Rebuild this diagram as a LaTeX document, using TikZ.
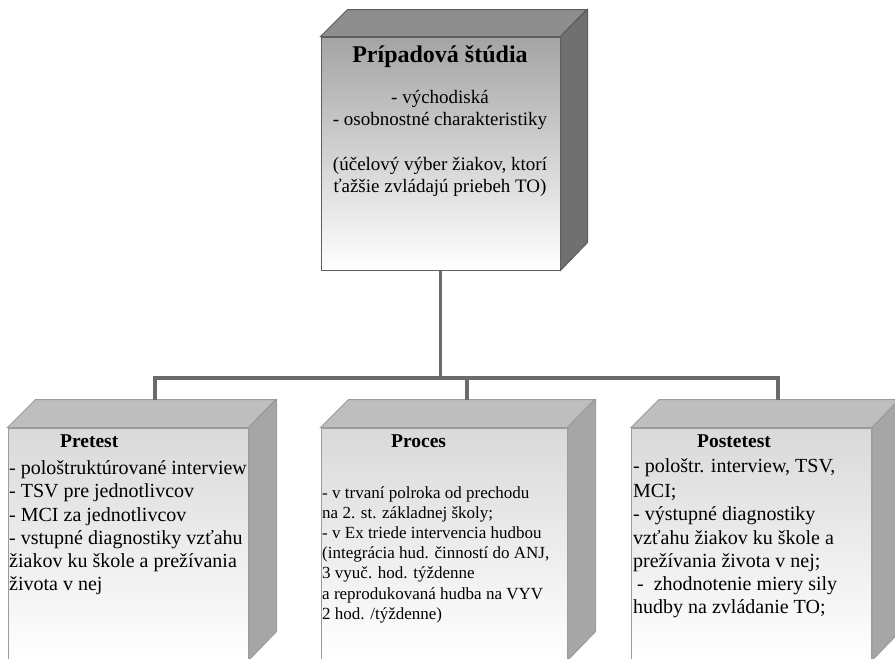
\documentclass[tikz,border=0pt]{standalone}
\usepackage{fontspec}
\setmainfont{Liberation Serif}
\usepackage{tikz}
\definecolor{topdark}{HTML}{8E8E8E}
\definecolor{sidedark}{HTML}{707070}
\definecolor{frontdark}{HTML}{A4A4A4}
\definecolor{edgedark}{HTML}{5E5E5E}
\definecolor{toplight}{HTML}{BEBEBE}
\definecolor{sidelight}{HTML}{A6A6A6}
\definecolor{frontlight}{HTML}{D9D9D9}
\definecolor{edgelight}{HTML}{9C9C9C}
\definecolor{linkgray}{HTML}{6B6B6B}
\tikzset{
  bigfront/.style={draw=edgedark, line width=1pt, top color=frontdark, bottom color=white, inner sep=0pt},
  bigtop/.style={draw=edgedark, line width=1pt, fill=topdark},
  bigside/.style={draw=edgedark, line width=1pt, fill=sidedark},
  front/.style={draw=edgelight, line width=1pt, top color=frontlight, bottom color=white, inner sep=0pt, minimum height=232pt},
  topface/.style={draw=edgelight, line width=1pt, fill=toplight},
  sideface/.style={draw=edgelight, line width=1pt, fill=sidelight},
  link/.style={draw=linkgray, line width=3.5pt},
  bigtitle/.style={anchor=base, inner sep=0pt, font=\fontsize{24}{28}\selectfont\bfseries},
  bigtxt/.style={anchor=base, inner sep=0pt, font=\fontsize{19}{22}\selectfont},
  boxtitle/.style={anchor=base west, inner sep=0pt, font=\fontsize{19.5}{22}\selectfont\bfseries},
  txt/.style={anchor=base west, inner sep=0pt, font=\fontsize{20}{22}\selectfont},
  smalltxt/.style={anchor=base west, inner sep=0pt, font=\fontsize{17}{20}\selectfont}
}
\begin{document}
\begin{tikzpicture}[x=1pt,y=-1pt]
\useasboundingbox (0,0) rectangle (895,659);
\clip (0,0) rectangle (895,659);

% case study box
\node [bigfront, minimum width=239pt, minimum height=233pt] (studia) at (440.5,153.5) {};
\draw [bigtop] (studia.north west) -- ++(27,-27) -- ++(239,0) -- (studia.north east) -- cycle;
\draw [bigside] (studia.north east) -- ++(27,-27) -- ++(0,233) -- (studia.south east) -- cycle;
\node [bigtitle] (st0) at (440,62) {Prípadová štúdia};
\node [bigtxt] (st1) at (440,103) {- východiská};
\node [bigtxt] (st2) at (440,125) {- osobnostné charakteristiky};
\node [bigtxt] (st3) at (440,170) {(účelový výber žiakov, ktorí};
\node [bigtxt] (st4) at (440,192) {ťažšie zvládajú priebeh TO)};

% three boxes below
\node [front, minimum width=240pt] (pretest) at (128,544) {};
\draw [topface] (pretest.north west) -- ++(28,-28) -- ++(240,0) -- (pretest.north east) -- cycle;
\draw [sideface] (pretest.north east) -- ++(28,-28) -- ++(0,232) -- (pretest.south east) -- cycle;

\node [front, minimum width=246pt] (proces) at (444,544) {};
\draw [topface] (proces.north west) -- ++(28,-28) -- ++(246,0) -- (proces.north east) -- cycle;
\draw [sideface] (proces.north east) -- ++(28,-28) -- ++(0,232) -- (proces.south east) -- cycle;

\node [front, minimum width=240pt] (postetest) at (751.5,544) {};
\draw [topface] (postetest.north west) -- ++(28,-28) -- ++(240,0) -- (postetest.north east) -- cycle;
\draw [sideface] (postetest.north east) -- ++(28,-28) -- ++(0,232) -- (postetest.south east) -- cycle;

% connectors
\coordinate (hub) at (440.5,378);
\coordinate (pretestTop) at (155,400);
\coordinate (procesTop) at (467,400);
\coordinate (postetestTop) at (778,400);
\draw [link] (studia.south) -- (hub);
\draw [link] (pretestTop) |- (hub) -| (postetestTop);
\draw [link] (procesTop) -- (procesTop |- hub);

% texts
\node [boxtitle] (pr0) at (60,447) {Pretest};
\node [txt] (pr1) at (9,474) {- pološtruktúrované interview};
\node [txt] (pr2) at (9,497) {- TSV pre jednotlivcov};
\node [txt] (pr3) at (9,521) {- MCI za jednotlivcov};
\node [txt] (pr4) at (9,544) {- vstupné diagnostiky vzťahu};
\node [txt] (pr5) at (9,567) {žiakov ku škole a prežívania};
\node [txt] (pr6) at (9,590) {života v nej};

\node [boxtitle] (pc0) at (391,447) {Proces};
\node [smalltxt] (pc1) at (322,498) {- v trvaní polroka od prechodu};
\node [smalltxt] (pc2) at (322,518) {na 2. st. základnej školy;};
\node [smalltxt] (pc3) at (322,538) {- v Ex triede intervencia hudbou};
\node [smalltxt] (pc4) at (322,558) {(integrácia hud. činností do ANJ,};
\node [smalltxt] (pc5) at (322,578) {3 vyuč. hod. týždenne};
\node [smalltxt] (pc6) at (322,599) {a reprodukovaná hudba na VYV};
\node [smalltxt] (pc7) at (322,619) {2 hod. /týždenne)};

\node [boxtitle] (po0) at (697,447) {Postetest};
\node [txt] (po1) at (633,472) {- pološtr. interview, TSV,};
\node [txt] (po2) at (633,497) {MCI;};
\node [txt] (po3) at (633,520) {- výstupné diagnostiky};
\node [txt] (po4) at (633,544) {vzťahu žiakov ku škole a};
\node [txt] (po5) at (633,567) {prežívania života v nej;};
\node [txt] (po6) at (637,590) {-\ \ zhodnotenie miery sily};
\node [txt] (po7) at (633,613) {hudby na zvládanie TO;};
\end{tikzpicture}
\end{document}
